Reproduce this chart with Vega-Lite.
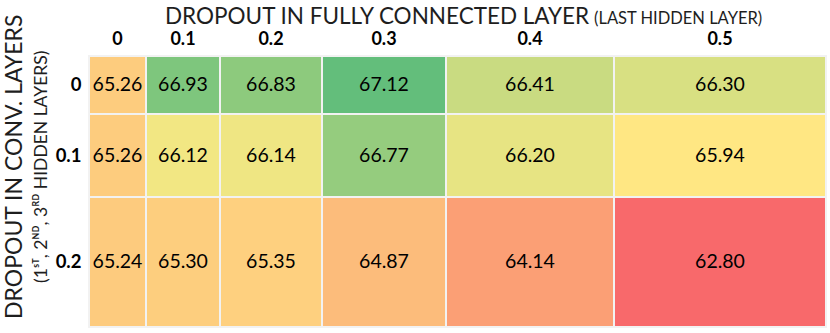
{
  "$schema": "https://vega.github.io/schema/vega-lite/v6.json",
  "padding": {"left": 3, "top": 5, "right": 5, "bottom": 5},
  "background": "white",
  "data": {"values": [
    {"conv": "0", "fc": "0", "acc": 65.26},
    {"conv": "0", "fc": "0.1", "acc": 66.93},
    {"conv": "0", "fc": "0.2", "acc": 66.83},
    {"conv": "0", "fc": "0.3", "acc": 67.12},
    {"conv": "0", "fc": "0.4", "acc": 66.41},
    {"conv": "0", "fc": "0.5", "acc": 66.30},
    {"conv": "0.1", "fc": "0", "acc": 65.26},
    {"conv": "0.1", "fc": "0.1", "acc": 66.12},
    {"conv": "0.1", "fc": "0.2", "acc": 66.14},
    {"conv": "0.1", "fc": "0.3", "acc": 66.77},
    {"conv": "0.1", "fc": "0.4", "acc": 66.20},
    {"conv": "0.1", "fc": "0.5", "acc": 65.94},
    {"conv": "0.2", "fc": "0", "acc": 65.24},
    {"conv": "0.2", "fc": "0.1", "acc": 65.30},
    {"conv": "0.2", "fc": "0.2", "acc": 65.35},
    {"conv": "0.2", "fc": "0.3", "acc": 64.87},
    {"conv": "0.2", "fc": "0.4", "acc": 64.14},
    {"conv": "0.2", "fc": "0.5", "acc": 62.80}
  ]},
  "title": {
    "text": "DROPOUT IN CONV. LAYERS",
    "subtitle": "(1ˢᵀ, 2ᴺᴰ, 3ᴿᴰ HIDDEN LAYERS)",
    "orient": "left",
    "anchor": "middle",
    "font": "Lato",
    "fontSize": 23,
    "fontWeight": "normal",
    "color": "#1e1e1e",
    "subtitleFont": "Lato",
    "subtitleFontSize": 17.5,
    "subtitleColor": "#1e1e1e",
    "subtitlePadding": 6,
    "offset": 5
  },
  "columns": 6,
  "spacing": 0,
  "align": "each",
  "bounds": "flush",
  "concat": [
    {"width": 57, "height": 58, "title": {"text": "DROPOUT IN FULLY CONNECTED LAYER", "anchor": "start", "frame": "group", "dx": 76, "font": "Lato", "fontSize": 22.5, "fontWeight": "normal", "color": "#1e1e1e", "offset": 2},
     "transform": [{"filter": {"and": [{"field": "conv", "equal": "0"}, {"field": "fc", "equal": "0"}]}}],
     "encoding": {"x": {"field": "fc", "type": "nominal", "axis": {"orient": "top"}}, "y": {"field": "conv", "type": "nominal", "axis": {"orient": "left"}}},
     "layer": [{"mark": {"type": "rect", "stroke": "#f2f2f2", "strokeWidth": 2}, "encoding": {"color": {"field": "acc", "type": "quantitative", "scale": {"domain": [62.8, 66.03, 67.12], "range": ["#F8696B", "#FFEB84", "#63BE7B"], "interpolate": "rgb"}, "legend": null}}},
               {"mark": {"type": "text", "font": "Lato", "fontSize": 19.5, "color": "#000"}, "encoding": {"text": {"field": "acc", "type": "quantitative", "format": ".2f"}}}]},
    {"width": 74, "height": 58,
     "transform": [{"filter": {"and": [{"field": "conv", "equal": "0"}, {"field": "fc", "equal": "0.1"}]}}],
     "encoding": {"x": {"field": "fc", "type": "nominal", "axis": {"orient": "top"}}, "y": {"field": "conv", "type": "nominal", "axis": null}},
     "layer": [{"mark": {"type": "rect", "stroke": "#f2f2f2", "strokeWidth": 2}, "encoding": {"color": {"field": "acc", "type": "quantitative", "scale": {"domain": [62.8, 66.03, 67.12], "range": ["#F8696B", "#FFEB84", "#63BE7B"], "interpolate": "rgb"}, "legend": null}}},
               {"mark": {"type": "text", "font": "Lato", "fontSize": 19.5, "color": "#000"}, "encoding": {"text": {"field": "acc", "type": "quantitative", "format": ".2f"}}}]},
    {"width": 102, "height": 58,
     "transform": [{"filter": {"and": [{"field": "conv", "equal": "0"}, {"field": "fc", "equal": "0.2"}]}}],
     "encoding": {"x": {"field": "fc", "type": "nominal", "axis": {"orient": "top"}}, "y": {"field": "conv", "type": "nominal", "axis": null}},
     "layer": [{"mark": {"type": "rect", "stroke": "#f2f2f2", "strokeWidth": 2}, "encoding": {"color": {"field": "acc", "type": "quantitative", "scale": {"domain": [62.8, 66.03, 67.12], "range": ["#F8696B", "#FFEB84", "#63BE7B"], "interpolate": "rgb"}, "legend": null}}},
               {"mark": {"type": "text", "font": "Lato", "fontSize": 19.5, "color": "#000"}, "encoding": {"text": {"field": "acc", "type": "quantitative", "format": ".2f"}}}]},
    {"width": 124, "height": 58,
     "transform": [{"filter": {"and": [{"field": "conv", "equal": "0"}, {"field": "fc", "equal": "0.3"}]}}],
     "encoding": {"x": {"field": "fc", "type": "nominal", "axis": {"orient": "top"}}, "y": {"field": "conv", "type": "nominal", "axis": null}},
     "layer": [{"mark": {"type": "rect", "stroke": "#f2f2f2", "strokeWidth": 2}, "encoding": {"color": {"field": "acc", "type": "quantitative", "scale": {"domain": [62.8, 66.03, 67.12], "range": ["#F8696B", "#FFEB84", "#63BE7B"], "interpolate": "rgb"}, "legend": null}}},
               {"mark": {"type": "text", "font": "Lato", "fontSize": 19.5, "color": "#000"}, "encoding": {"text": {"field": "acc", "type": "quantitative", "format": ".2f"}}}]},
    {"width": 168, "height": 58, "title": {"text": "(LAST HIDDEN LAYER)", "anchor": "start", "frame": "group", "dx": 148, "font": "Lato", "fontSize": 16.5, "fontWeight": "normal", "color": "#1e1e1e", "offset": 3},
     "transform": [{"filter": {"and": [{"field": "conv", "equal": "0"}, {"field": "fc", "equal": "0.4"}]}}],
     "encoding": {"x": {"field": "fc", "type": "nominal", "axis": {"orient": "top"}}, "y": {"field": "conv", "type": "nominal", "axis": null}},
     "layer": [{"mark": {"type": "rect", "stroke": "#f2f2f2", "strokeWidth": 2}, "encoding": {"color": {"field": "acc", "type": "quantitative", "scale": {"domain": [62.8, 66.03, 67.12], "range": ["#F8696B", "#FFEB84", "#63BE7B"], "interpolate": "rgb"}, "legend": null}}},
               {"mark": {"type": "text", "font": "Lato", "fontSize": 19.5, "color": "#000"}, "encoding": {"text": {"field": "acc", "type": "quantitative", "format": ".2f"}}}]},
    {"width": 212, "height": 58,
     "transform": [{"filter": {"and": [{"field": "conv", "equal": "0"}, {"field": "fc", "equal": "0.5"}]}}],
     "encoding": {"x": {"field": "fc", "type": "nominal", "axis": {"orient": "top"}}, "y": {"field": "conv", "type": "nominal", "axis": null}},
     "layer": [{"mark": {"type": "rect", "stroke": "#f2f2f2", "strokeWidth": 2}, "encoding": {"color": {"field": "acc", "type": "quantitative", "scale": {"domain": [62.8, 66.03, 67.12], "range": ["#F8696B", "#FFEB84", "#63BE7B"], "interpolate": "rgb"}, "legend": null}}},
               {"mark": {"type": "text", "font": "Lato", "fontSize": 19.5, "color": "#000"}, "encoding": {"text": {"field": "acc", "type": "quantitative", "format": ".2f"}}}]},

    {"width": 57, "height": 83,
     "transform": [{"filter": {"and": [{"field": "conv", "equal": "0.1"}, {"field": "fc", "equal": "0"}]}}],
     "encoding": {"x": {"field": "fc", "type": "nominal", "axis": null}, "y": {"field": "conv", "type": "nominal", "axis": {"orient": "left"}}},
     "layer": [{"mark": {"type": "rect", "stroke": "#f2f2f2", "strokeWidth": 2}, "encoding": {"color": {"field": "acc", "type": "quantitative", "scale": {"domain": [62.8, 66.03, 67.12], "range": ["#F8696B", "#FFEB84", "#63BE7B"], "interpolate": "rgb"}, "legend": null}}},
               {"mark": {"type": "text", "font": "Lato", "fontSize": 19.5, "color": "#000"}, "encoding": {"text": {"field": "acc", "type": "quantitative", "format": ".2f"}}}]},
    {"width": 74, "height": 83,
     "transform": [{"filter": {"and": [{"field": "conv", "equal": "0.1"}, {"field": "fc", "equal": "0.1"}]}}],
     "encoding": {"x": {"field": "fc", "type": "nominal", "axis": null}, "y": {"field": "conv", "type": "nominal", "axis": null}},
     "layer": [{"mark": {"type": "rect", "stroke": "#f2f2f2", "strokeWidth": 2}, "encoding": {"color": {"field": "acc", "type": "quantitative", "scale": {"domain": [62.8, 66.03, 67.12], "range": ["#F8696B", "#FFEB84", "#63BE7B"], "interpolate": "rgb"}, "legend": null}}},
               {"mark": {"type": "text", "font": "Lato", "fontSize": 19.5, "color": "#000"}, "encoding": {"text": {"field": "acc", "type": "quantitative", "format": ".2f"}}}]},
    {"width": 102, "height": 83,
     "transform": [{"filter": {"and": [{"field": "conv", "equal": "0.1"}, {"field": "fc", "equal": "0.2"}]}}],
     "encoding": {"x": {"field": "fc", "type": "nominal", "axis": null}, "y": {"field": "conv", "type": "nominal", "axis": null}},
     "layer": [{"mark": {"type": "rect", "stroke": "#f2f2f2", "strokeWidth": 2}, "encoding": {"color": {"field": "acc", "type": "quantitative", "scale": {"domain": [62.8, 66.03, 67.12], "range": ["#F8696B", "#FFEB84", "#63BE7B"], "interpolate": "rgb"}, "legend": null}}},
               {"mark": {"type": "text", "font": "Lato", "fontSize": 19.5, "color": "#000"}, "encoding": {"text": {"field": "acc", "type": "quantitative", "format": ".2f"}}}]},
    {"width": 124, "height": 83,
     "transform": [{"filter": {"and": [{"field": "conv", "equal": "0.1"}, {"field": "fc", "equal": "0.3"}]}}],
     "encoding": {"x": {"field": "fc", "type": "nominal", "axis": null}, "y": {"field": "conv", "type": "nominal", "axis": null}},
     "layer": [{"mark": {"type": "rect", "stroke": "#f2f2f2", "strokeWidth": 2}, "encoding": {"color": {"field": "acc", "type": "quantitative", "scale": {"domain": [62.8, 66.03, 67.12], "range": ["#F8696B", "#FFEB84", "#63BE7B"], "interpolate": "rgb"}, "legend": null}}},
               {"mark": {"type": "text", "font": "Lato", "fontSize": 19.5, "color": "#000"}, "encoding": {"text": {"field": "acc", "type": "quantitative", "format": ".2f"}}}]},
    {"width": 168, "height": 83,
     "transform": [{"filter": {"and": [{"field": "conv", "equal": "0.1"}, {"field": "fc", "equal": "0.4"}]}}],
     "encoding": {"x": {"field": "fc", "type": "nominal", "axis": null}, "y": {"field": "conv", "type": "nominal", "axis": null}},
     "layer": [{"mark": {"type": "rect", "stroke": "#f2f2f2", "strokeWidth": 2}, "encoding": {"color": {"field": "acc", "type": "quantitative", "scale": {"domain": [62.8, 66.03, 67.12], "range": ["#F8696B", "#FFEB84", "#63BE7B"], "interpolate": "rgb"}, "legend": null}}},
               {"mark": {"type": "text", "font": "Lato", "fontSize": 19.5, "color": "#000"}, "encoding": {"text": {"field": "acc", "type": "quantitative", "format": ".2f"}}}]},
    {"width": 212, "height": 83,
     "transform": [{"filter": {"and": [{"field": "conv", "equal": "0.1"}, {"field": "fc", "equal": "0.5"}]}}],
     "encoding": {"x": {"field": "fc", "type": "nominal", "axis": null}, "y": {"field": "conv", "type": "nominal", "axis": null}},
     "layer": [{"mark": {"type": "rect", "stroke": "#f2f2f2", "strokeWidth": 2}, "encoding": {"color": {"field": "acc", "type": "quantitative", "scale": {"domain": [62.8, 66.03, 67.12], "range": ["#F8696B", "#FFEB84", "#63BE7B"], "interpolate": "rgb"}, "legend": null}}},
               {"mark": {"type": "text", "font": "Lato", "fontSize": 19.5, "color": "#000"}, "encoding": {"text": {"field": "acc", "type": "quantitative", "format": ".2f"}}}]},

    {"width": 57, "height": 130,
     "transform": [{"filter": {"and": [{"field": "conv", "equal": "0.2"}, {"field": "fc", "equal": "0"}]}}],
     "encoding": {"x": {"field": "fc", "type": "nominal", "axis": null}, "y": {"field": "conv", "type": "nominal", "axis": {"orient": "left"}}},
     "layer": [{"mark": {"type": "rect", "stroke": "#f2f2f2", "strokeWidth": 2}, "encoding": {"color": {"field": "acc", "type": "quantitative", "scale": {"domain": [62.8, 66.03, 67.12], "range": ["#F8696B", "#FFEB84", "#63BE7B"], "interpolate": "rgb"}, "legend": null}}},
               {"mark": {"type": "text", "font": "Lato", "fontSize": 19.5, "color": "#000"}, "encoding": {"text": {"field": "acc", "type": "quantitative", "format": ".2f"}}}]},
    {"width": 74, "height": 130,
     "transform": [{"filter": {"and": [{"field": "conv", "equal": "0.2"}, {"field": "fc", "equal": "0.1"}]}}],
     "encoding": {"x": {"field": "fc", "type": "nominal", "axis": null}, "y": {"field": "conv", "type": "nominal", "axis": null}},
     "layer": [{"mark": {"type": "rect", "stroke": "#f2f2f2", "strokeWidth": 2}, "encoding": {"color": {"field": "acc", "type": "quantitative", "scale": {"domain": [62.8, 66.03, 67.12], "range": ["#F8696B", "#FFEB84", "#63BE7B"], "interpolate": "rgb"}, "legend": null}}},
               {"mark": {"type": "text", "font": "Lato", "fontSize": 19.5, "color": "#000"}, "encoding": {"text": {"field": "acc", "type": "quantitative", "format": ".2f"}}}]},
    {"width": 102, "height": 130,
     "transform": [{"filter": {"and": [{"field": "conv", "equal": "0.2"}, {"field": "fc", "equal": "0.2"}]}}],
     "encoding": {"x": {"field": "fc", "type": "nominal", "axis": null}, "y": {"field": "conv", "type": "nominal", "axis": null}},
     "layer": [{"mark": {"type": "rect", "stroke": "#f2f2f2", "strokeWidth": 2}, "encoding": {"color": {"field": "acc", "type": "quantitative", "scale": {"domain": [62.8, 66.03, 67.12], "range": ["#F8696B", "#FFEB84", "#63BE7B"], "interpolate": "rgb"}, "legend": null}}},
               {"mark": {"type": "text", "font": "Lato", "fontSize": 19.5, "color": "#000"}, "encoding": {"text": {"field": "acc", "type": "quantitative", "format": ".2f"}}}]},
    {"width": 124, "height": 130,
     "transform": [{"filter": {"and": [{"field": "conv", "equal": "0.2"}, {"field": "fc", "equal": "0.3"}]}}],
     "encoding": {"x": {"field": "fc", "type": "nominal", "axis": null}, "y": {"field": "conv", "type": "nominal", "axis": null}},
     "layer": [{"mark": {"type": "rect", "stroke": "#f2f2f2", "strokeWidth": 2}, "encoding": {"color": {"field": "acc", "type": "quantitative", "scale": {"domain": [62.8, 66.03, 67.12], "range": ["#F8696B", "#FFEB84", "#63BE7B"], "interpolate": "rgb"}, "legend": null}}},
               {"mark": {"type": "text", "font": "Lato", "fontSize": 19.5, "color": "#000"}, "encoding": {"text": {"field": "acc", "type": "quantitative", "format": ".2f"}}}]},
    {"width": 168, "height": 130,
     "transform": [{"filter": {"and": [{"field": "conv", "equal": "0.2"}, {"field": "fc", "equal": "0.4"}]}}],
     "encoding": {"x": {"field": "fc", "type": "nominal", "axis": null}, "y": {"field": "conv", "type": "nominal", "axis": null}},
     "layer": [{"mark": {"type": "rect", "stroke": "#f2f2f2", "strokeWidth": 2}, "encoding": {"color": {"field": "acc", "type": "quantitative", "scale": {"domain": [62.8, 66.03, 67.12], "range": ["#F8696B", "#FFEB84", "#63BE7B"], "interpolate": "rgb"}, "legend": null}}},
               {"mark": {"type": "text", "font": "Lato", "fontSize": 19.5, "color": "#000"}, "encoding": {"text": {"field": "acc", "type": "quantitative", "format": ".2f"}}}]},
    {"width": 212, "height": 130,
     "transform": [{"filter": {"and": [{"field": "conv", "equal": "0.2"}, {"field": "fc", "equal": "0.5"}]}}],
     "encoding": {"x": {"field": "fc", "type": "nominal", "axis": null}, "y": {"field": "conv", "type": "nominal", "axis": null}},
     "layer": [{"mark": {"type": "rect", "stroke": "#f2f2f2", "strokeWidth": 2}, "encoding": {"color": {"field": "acc", "type": "quantitative", "scale": {"domain": [62.8, 66.03, 67.12], "range": ["#F8696B", "#FFEB84", "#63BE7B"], "interpolate": "rgb"}, "legend": null}}},
               {"mark": {"type": "text", "font": "Lato", "fontSize": 19.5, "color": "#000"}, "encoding": {"text": {"field": "acc", "type": "quantitative", "format": ".2f"}}}]}
  ],
  "config": {
    "view": {"stroke": null},
    "axis": {"title": null, "domain": false, "ticks": false, "grid": false, "labelFont": "Lato", "labelFontWeight": "bold", "labelColor": "#000", "labelAngle": 0},
    "axisX": {"labelFontSize": 18, "labelPadding": 8},
    "axisY": {"labelFontSize": 18.5, "labelPadding": 8}
  }
}
